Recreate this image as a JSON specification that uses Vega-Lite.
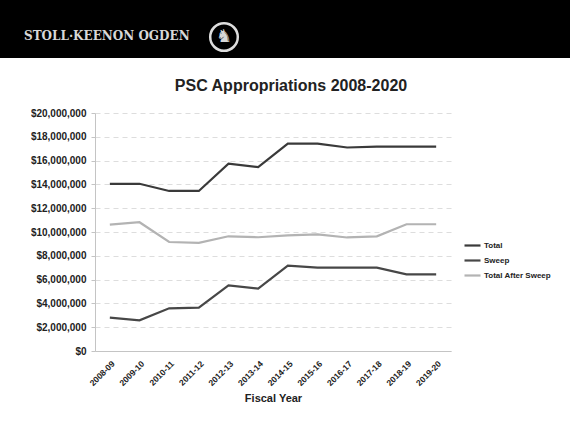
{
  "$schema": "https://vega.github.io/schema/vega-lite/v6.json",
  "padding": 0,
  "spacing": 20,
  "background": "white",
  "config": {"view": {"stroke": null}, "font": "Liberation Sans"},
  "resolve": {"legend": {"color": "independent", "strokeWidth": "independent"}, "scale": {"x": "independent", "y": "independent"}},
  "vconcat": [
    {
      "width": 570,
      "height": 58,
      "view": {"fill": "#000000", "stroke": null},
      "data": {"values": [
        {"kind": "name", "label": "STOLL·KEENON OGDEN"},
        {"kind": "logo", "label": "♞"}
      ]},
      "encoding": {
        "x": {"field": "kind", "type": "nominal", "scale": {"type": "point", "padding": 0, "domain": ["name", "logo"], "range": [24, 224]}, "axis": null},
        "y": {"field": "kind", "type": "nominal", "scale": {"type": "point", "padding": 0, "domain": ["name", "logo"], "range": [36, 37]}, "axis": null}
      },
      "layer": [
        {
          "transform": [{"filter": "datum.kind === 'name'"}],
          "mark": {"type": "text", "align": "left", "baseline": "middle", "font": "DejaVu Serif", "fontSize": 12, "fontWeight": "bold", "color": "#d8d8d8"},
          "encoding": {"text": {"field": "label"}}
        },
        {
          "transform": [{"filter": "datum.kind === 'logo'"}],
          "mark": {"type": "point", "shape": "circle", "filled": false, "size": 760, "stroke": "#dddddd", "strokeWidth": 2.5, "opacity": 1}
        },
        {
          "transform": [{"filter": "datum.kind === 'logo'"}],
          "mark": {"type": "text", "align": "center", "baseline": "middle", "font": "DejaVu Sans", "fontSize": 18, "color": "#d8d8d8"},
          "encoding": {"text": {"field": "label"}}
        }
      ]
    },
    {
      "spacing": 0,
      "resolve": {"legend": {"color": "independent", "strokeWidth": "independent"}},
      "hconcat": [
        {
          "width": 1,
          "height": 1,
          "data": {"values": [{"t": ""}]},
          "mark": {"type": "text"},
          "encoding": {"text": {"field": "t"}}
        },
        {
          "width": 356,
          "height": 238,
          "title": {"text": "PSC Appropriations 2008-2020", "font": "Liberation Sans", "fontSize": 16, "fontWeight": "bold", "color": "#222222", "offset": 14, "dx": 18},
          "data": {"values": [
            {"year": "2008-09", "series": "Total", "amount": 14050000},
            {"year": "2009-10", "series": "Total", "amount": 14050000},
            {"year": "2010-11", "series": "Total", "amount": 13450000},
            {"year": "2011-12", "series": "Total", "amount": 13450000},
            {"year": "2012-13", "series": "Total", "amount": 15750000},
            {"year": "2013-14", "series": "Total", "amount": 15450000},
            {"year": "2014-15", "series": "Total", "amount": 17430000},
            {"year": "2015-16", "series": "Total", "amount": 17430000},
            {"year": "2016-17", "series": "Total", "amount": 17100000},
            {"year": "2017-18", "series": "Total", "amount": 17170000},
            {"year": "2018-19", "series": "Total", "amount": 17180000},
            {"year": "2019-20", "series": "Total", "amount": 17180000},
            {"year": "2008-09", "series": "Sweep", "amount": 2800000},
            {"year": "2009-10", "series": "Sweep", "amount": 2580000},
            {"year": "2010-11", "series": "Sweep", "amount": 3590000},
            {"year": "2011-12", "series": "Sweep", "amount": 3650000},
            {"year": "2012-13", "series": "Sweep", "amount": 5520000},
            {"year": "2013-14", "series": "Sweep", "amount": 5240000},
            {"year": "2014-15", "series": "Sweep", "amount": 7180000},
            {"year": "2015-16", "series": "Sweep", "amount": 7000000},
            {"year": "2016-17", "series": "Sweep", "amount": 7000000},
            {"year": "2017-18", "series": "Sweep", "amount": 7000000},
            {"year": "2018-19", "series": "Sweep", "amount": 6440000},
            {"year": "2019-20", "series": "Sweep", "amount": 6440000},
            {"year": "2008-09", "series": "Total After Sweep", "amount": 10620000},
            {"year": "2009-10", "series": "Total After Sweep", "amount": 10820000},
            {"year": "2010-11", "series": "Total After Sweep", "amount": 9160000},
            {"year": "2011-12", "series": "Total After Sweep", "amount": 9080000},
            {"year": "2012-13", "series": "Total After Sweep", "amount": 9640000},
            {"year": "2013-14", "series": "Total After Sweep", "amount": 9560000},
            {"year": "2014-15", "series": "Total After Sweep", "amount": 9720000},
            {"year": "2015-16", "series": "Total After Sweep", "amount": 9800000},
            {"year": "2016-17", "series": "Total After Sweep", "amount": 9540000},
            {"year": "2017-18", "series": "Total After Sweep", "amount": 9640000},
            {"year": "2018-19", "series": "Total After Sweep", "amount": 10650000},
            {"year": "2019-20", "series": "Total After Sweep", "amount": 10650000}
          ]},
          "mark": {"type": "line"},
          "encoding": {
            "x": {
              "field": "year", "type": "ordinal", "sort": null, "title": "Fiscal Year",
              "axis": {
                "labelAngle": -45, "labelFontSize": 8.5, "labelFontWeight": "bold", "labelColor": "#222222",
                "labelPadding": 8, "ticks": false, "domainColor": "#c4c4c4", "grid": false,
                "titleFontSize": 11, "titleFontWeight": "bold", "titleColor": "#222222", "titlePadding": 5
              }
            },
            "y": {
              "field": "amount", "type": "quantitative",
              "scale": {"domain": [0, 20000000]},
              "axis": {
                "values": [0, 2000000, 4000000, 6000000, 8000000, 10000000, 12000000, 14000000, 16000000, 18000000, 20000000],
                "format": "$,.0f", "title": null,
                "labelFontSize": 10, "labelFontWeight": "bold", "labelColor": "#222222", "labelPadding": 5,
                "tickSize": 4, "tickColor": "#c4c4c4", "domainColor": "#c4c4c4",
                "gridColor": "#dddddd", "gridDash": [5, 4], "minExtent": 94
              }
            },
            "color": {
              "field": "series", "type": "nominal",
              "scale": {"domain": ["Total", "Sweep", "Total After Sweep"], "range": ["#3a3a3a", "#474747", "#b3b3b3"]},
              "legend": {
                "title": null, "orient": "none", "legendX": 368, "legendY": 123,
                "symbolType": "stroke", "symbolSize": 256, "symbolStrokeWidth": 2,
                "labelFontSize": 8, "labelFontWeight": "bold", "labelColor": "#222222", "labelOffset": 2, "rowPadding": 1
              }
            },
            "strokeWidth": {
              "field": "series", "type": "nominal",
              "scale": {"domain": ["Total", "Sweep", "Total After Sweep"], "range": [2.2, 2.2, 1.5]},
              "legend": null
            }
          }
        }
      ]
    }
  ]
}
